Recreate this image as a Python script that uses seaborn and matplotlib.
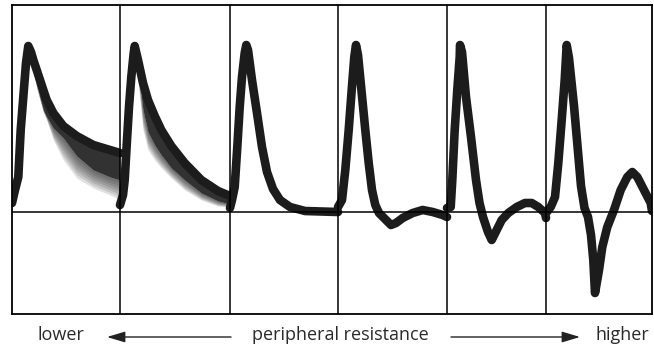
import numpy as np
import pandas as pd
import matplotlib
matplotlib.use("Agg")
import matplotlib.pyplot as plt
import seaborn as sns

# ---- data: Doppler waveforms
# t = time within the panel (arbitrary units), v = velocity relative to baseline (arbitrary units)
p1_t = [0, 3, 6.3, 8.7, 11.3, 14, 16.3, 19, 21.3, 24.7, 28, 31.3, 34.7, 41.3, 51.3, 64.7, 81.3, 98, 108]
p1_v = [9, 22, 35, 82, 115, 149, 166, 160, 152, 142, 132, 122, 112, 99, 86, 76, 67, 62, 59]
p1_dark = [9, 22, 35, 82, 115, 149, 166, 152, 142, 127, 114, 102, 95, 84, 74, 56, 42, 35, 32]
p1_fade = [9, 22, 35, 82, 115, 149, 166, 152, 140, 124, 112, 100, 92, 72, 52, 34, 24, 17, 12]

p2_t = [0, 3, 4.7, 7, 9, 11.3, 13.7, 14.7, 18, 23, 28, 34.7, 41.3, 51.3, 64.7, 81.3, 98, 110]
p2_v = [7, 17, 32, 72, 105, 135, 159, 166, 152, 129, 112, 96, 82, 66, 49, 32, 21, 16]
p2_dark = [7, 17, 32, 72, 105, 135, 159, 166, 142, 102, 80, 67, 57, 44, 32, 19, 11, 8]
p2_fade = [7, 17, 32, 72, 105, 135, 159, 166, 132, 82, 62, 52, 44, 34, 22, 12, 6, 5]

p3_t = [0, 2, 4.7, 7.3, 9.7, 12, 14.7, 16.3, 18, 22, 27, 32, 37, 43, 50, 60, 75, 108]
p3_v = [4, 12, 25, 65, 105, 135, 159, 167, 162, 132, 99, 65, 40, 23, 12, 5, 1, 0]

p4_t = [0, 4, 7.3, 10.7, 13.7, 16.3, 18, 20, 24, 27.3, 30.7, 34, 37.3, 41, 48, 53, 58, 64.7, 74.7, 84.7, 94.7, 104.7, 109]
p4_v = [5, 12, 42, 82, 122, 155, 167, 157, 116, 82, 49, 22, 7, -1, -8, -13, -11, -6, -1, 2, 0, -3, -5]

p5_t = [0, 3.7, 5.3, 7.7, 10.3, 12.7, 13, 15, 19, 24, 29, 32.5, 36, 41, 44.7, 49.7, 54.7, 61.3, 69.7, 78, 84.7, 91.3, 98, 99]
p5_v = [4, 5, 32, 82, 122, 155, 167, 160, 115, 75, 32, 9, -5, -20, -28, -18, -8, -1, 5, 9, 9, 5, -1, -6]

p6_t = [0, 4.7, 9, 12.3, 15.7, 18.7, 20.7, 23, 28, 31.5, 35, 38.5, 42, 45, 47.3, 49, 53, 56.3, 61.3, 68, 74.7, 81.3, 86.3, 91.3, 98, 104.7, 106]
p6_v = [-1, 5, 15, 49, 92, 132, 167, 154, 106, 66, 26, 4, -5, -23, -48, -81, -58, -35, -15, 2, 22, 35, 40, 35, 22, 9, 1]

label_left = "lower"
label_mid = "peripheral resistance"
label_right = "higher"

# ---- layout (pixel based)
W, H = 654, 348
bounds = [12, 120, 230, 338, 447, 546, 652]
box_top, box_bottom, base_y = 5, 314, 212
ink = "#1c1c1c"

sns.set_style("white")
plt.rcParams['font.family'] = ['Open Sans', 'DejaVu Sans']

fig = plt.figure(figsize=(W / 100, H / 100), dpi=100)
ax = fig.add_axes([bounds[0] / W, (H - box_bottom) / H,
                   (bounds[-1] - bounds[0]) / W, (box_bottom - box_top) / H])

panels_t = [p1_t, p2_t, p3_t, p4_t, p5_t, p6_t]
panels_v = [p1_v, p2_v, p3_v, p4_v, p5_v, p6_v]

def xpos(i, t):
    return bounds[i] + np.asarray(t, dtype=float)

# spectral broadening (gradient below the dark band) for panels 1 & 2
for i, t, v, dark, fade in [(0, p1_t, p1_v, p1_dark, p1_fade), (1, p2_t, p2_v, p2_dark, p2_fade)]:
    x = xpos(i, t)
    d = np.asarray(dark, float)
    f = np.asarray(fade, float)
    for k in np.linspace(0.15, 1.0, 7):
        ax.fill_between(x, d, d + k * (f - d), color=ink, alpha=0.13, lw=0)
    ax.fill_between(x, v, d, color=ink, alpha=0.9, lw=0)

for i, (t, v) in enumerate(zip(panels_t, panels_v)):
    df = pd.DataFrame({"x": xpos(i, t), "v": v})
    sns.lineplot(data=df, x="x", y="v", ax=ax, color=ink, lw=6.2,
                 sort=False, estimator=None,
                 solid_joinstyle="round", solid_capstyle="round")

ax.set_xlim(bounds[0], bounds[-1])
ax.set_ylim(base_y - box_bottom, base_y - box_top)
for b in bounds[1:-1]:
    ax.axvline(b, color="black", lw=1.1, zorder=5)
ax.axhline(0, color="black", lw=1.1, zorder=5)
for s in ax.spines.values():
    s.set_visible(True)
    s.set_color("black")
    s.set_linewidth(1.3)
ax.set_xticks([])
ax.set_yticks([])
ax.set_xlabel("")
ax.set_ylabel("")

ty = 1 - 335 / H
fs = 13
tc = "#2a2a2a"
fig.text(61 / W, ty, label_left, ha="center", va="center", fontsize=fs, color=tc)
fig.text(340 / W, ty, label_mid, ha="center", va="center", fontsize=fs, color=tc)
fig.text(622 / W, ty, label_right, ha="center", va="center", fontsize=fs, color=tc)
ay = 1 - 337 / H
arr = dict(arrowstyle="-|>,head_length=1.0,head_width=0.3", color="#222", lw=1.0,
           mutation_scale=11, shrinkA=0, shrinkB=0)
fig.add_artist(matplotlib.patches.FancyArrowPatch((231 / W, ay), (107 / W, ay),
               transform=fig.transFigure, **arr))
fig.add_artist(matplotlib.patches.FancyArrowPatch((451 / W, ay), (580 / W, ay),
               transform=fig.transFigure, **arr))

fig.savefig("out.png", dpi=100)
